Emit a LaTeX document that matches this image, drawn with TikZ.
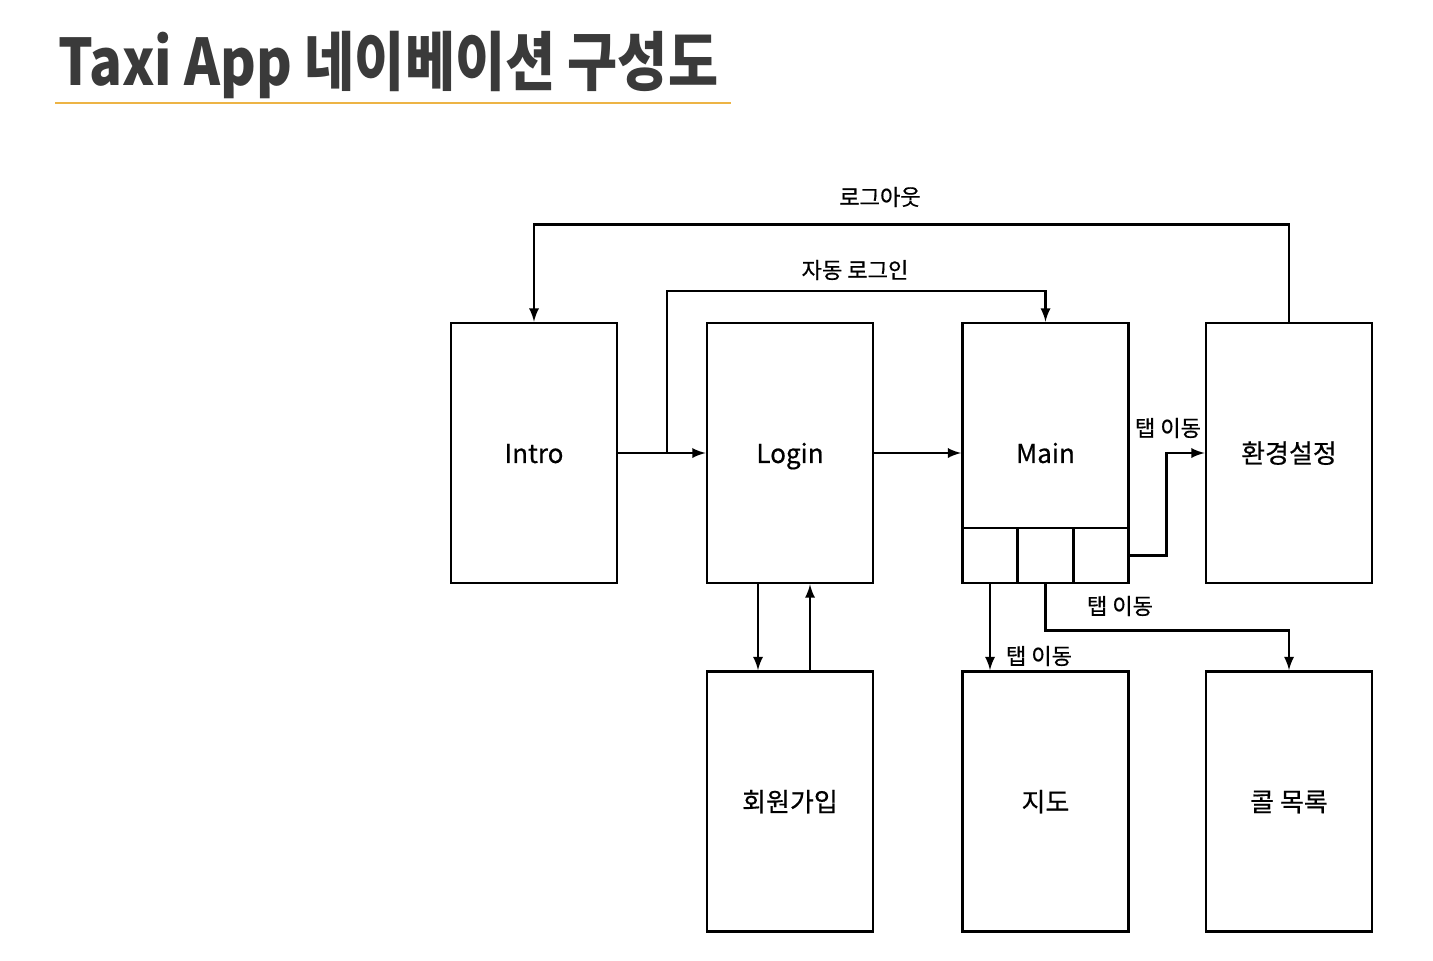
\documentclass[tikz,border=0pt]{standalone}
\usepackage{fontspec}
\setmainfont{Noto Sans CJK KR}
\newfontfamily\kr{Noto Sans CJK KR}
\newfontfamily\krm[FakeBold=0.6]{Noto Sans CJK KR}
\usetikzlibrary{arrows,positioning,calc}
\definecolor{titlegray}{HTML}{3A3A3A}
\definecolor{rulegold}{HTML}{EDB445}
\tikzset{
  screen/.style={draw, line width=1.6pt, minimum width=3.32cm, minimum height=5.2cm, inner sep=0pt, text height=1.2em, text depth=0.07em, font=\krm\fontsize{14.8}{17}\selectfont},
  tabcell/.style={draw, line width=1.6pt, minimum width=1.11cm, minimum height=1.1cm, inner sep=0pt},
  flow/.style={line width=1.6pt, -latex},
  lbl/.style={font=\krm\fontsize{12.6}{14}\selectfont, inner sep=1pt}
}
\begin{document}
\begin{tikzpicture}[x=0.02cm,y=-0.02cm]
\useasboundingbox (0,0) rectangle (1433,960);
% title
\node[anchor=west, text=titlegray, font=\kr\bfseries\fontsize{31}{34}\selectfont] (title) at (52,65) {\scalebox{1}[1.18]{Taxi App 네이베이션 구성도}};
\draw[rulegold, line width=1.5pt] (55,103) -- (731,103);
% screens
\node[screen] (intro) at (534,453) {Intro};
\node[screen] (login) at (790,453) {Login};
\node[screen] (main) at (1045.5,453) {Main};
\node[screen] (setting) at (1289,453) {환경설정};
\node[screen] (signup) at (790,801.5) {회원가입};
\node[screen] (map) at (1045.5,801.5) {지도};
\node[screen] (calls) at (1289,801.5) {콜 목록};
% tabs of main
\node[tabcell] (tab1) at (990,555.5) {};
\node[tabcell] (tab2) at (1045.5,555.5) {};
\node[tabcell] (tab3) at (1101,555.5) {};
% arrows
\coordinate (fork) at (667,453);
\draw[flow] (intro.east) -- (login.west);
\draw[flow] (fork) -- (fork |- 0,291) -| (main.north);
\node[lbl] (autolbl) at (855,270) {자동 로그인};
\draw[flow] (setting.north) -- ++(0,-97) -| (intro.north);
\node[lbl] (outlbl) at (880,197) {로그아웃};
\draw[flow] (login.east) -- (main.west);
\draw[flow] (login.south -| 758,0) -- (signup.north -| 758,0);
\draw[flow] (signup.north -| 810,0) -- (login.south -| 810,0);
\draw[flow] (tab3.east) -- ++(36,0) |- (setting.west);
\node[lbl] (tablbl1) at (1168,428) {탭 이동};
\draw[flow] (tab1.south) -- (tab1.south |- map.north);
\node[lbl] (tablbl2) at (1039,656) {탭 이동};
\draw[flow] (tab2.south) -- ++(0,46) -| (calls.north);
\node[lbl] (tablbl3) at (1120,606) {탭 이동};
\end{tikzpicture}
\end{document}
